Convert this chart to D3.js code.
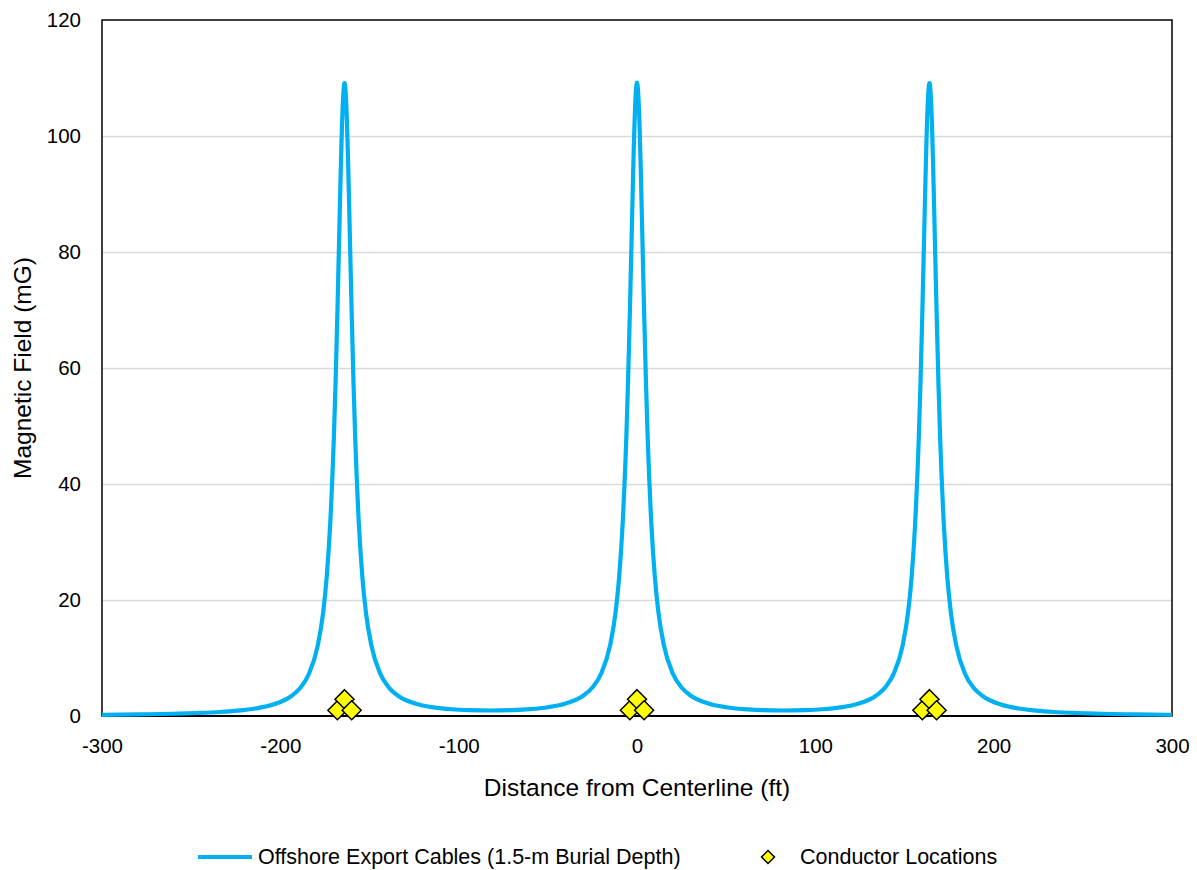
<!DOCTYPE html>
<html>
<head>
<meta charset="utf-8">
<script src="https://cdn.jsdelivr.net/npm/d3@7"></script>
<style>
  html, body { margin: 0; padding: 0; background: #fff; }
  svg { display: block; font-family: "Liberation Sans", Arial, sans-serif; }
</style>
</head>
<body>
<svg id="chart" width="1197" height="870"></svg>
<script>
// ---- Data ----
const distanceFt = [
  -300, -280, -260, -246, -234, -224, -214, -204, -194, -189, -184, -179, -176, -174, -172,
  -170, -169, -168, -167, -166, -165, -164, -163, -162, -161, -160, -159, -158, -156, -154,
  -152, -149, -144, -139, -134, -124, -114, -104, -94, -82, -70, -60, -50, -40, -30, -25,
  -20, -15, -12, -10, -8, -6, -5, -4, -3, -2, -1, 0, 1, 2, 3, 4, 5, 6, 8, 10, 12, 15, 20,
  25, 30, 40, 50, 60, 70, 82, 94, 104, 114, 124, 134, 139, 144, 149, 152, 154, 156, 158,
  159, 160, 161, 162, 163, 164, 165, 166, 167, 168, 169, 170, 172, 174, 176, 179, 184, 189,
  194, 204, 214, 224, 234, 246, 260, 280, 300
];
const fieldMG = [
  0.21, 0.28, 0.39, 0.52, 0.69, 0.92, 1.30, 1.97, 3.40, 4.78, 7.25, 12.19, 17.82, 23.93, 33.33,
  47.84, 57.74, 69.54, 82.64, 95.54, 105.34, 109.14, 105.34, 95.54, 82.64, 69.54, 57.74, 47.84, 33.36, 23.96,
  17.86, 12.23, 7.31, 4.86, 3.49, 2.10, 1.48, 1.16, 1.01, 0.95, 1.02, 1.18, 1.51, 2.14, 3.54, 4.91,
  7.37, 12.3, 17.9, 24.0, 33.4, 47.9, 57.8, 69.6, 82.7, 95.6, 105.4, 109.2, 105.4, 95.6, 82.7, 69.6, 57.8, 47.9, 33.4, 24.0, 17.9, 12.3, 7.37,
  4.91, 3.54, 2.14, 1.51, 1.18, 1.02, 0.95, 1.01, 1.16, 1.48, 2.10, 3.49, 4.86, 7.31, 12.23, 17.86, 23.96, 33.36, 47.84,
  57.74, 69.54, 82.64, 95.54, 105.34, 109.14, 105.34, 95.54, 82.64, 69.54, 57.74, 47.84, 33.33, 23.93, 17.82, 12.19, 7.25, 4.78,
  3.40, 1.97, 1.30, 0.92, 0.69, 0.52, 0.39, 0.28, 0.21
];
const conductorX = [-168, -164, -160, -4, 0, 4, 160, 164, 168];
const conductorY = [1.0, 2.9, 1.0, 1.0, 2.9, 1.0, 1.0, 2.9, 1.0];
const xTicks = [-300, -200, -100, 0, 100, 200, 300];
const yTicks = [0, 20, 40, 60, 80, 100, 120];
const seriesNames = ["Offshore Export Cables (1.5-m Burial Depth)", "Conductor Locations"];
const xTitle = "Distance from Centerline (ft)";
const yTitle = "Magnetic Field (mG)";

// ---- Layout ----
const svg = d3.select("#chart");
const plot = { left: 102, right: 1172, top: 20, bottom: 716 };
const lineColor = "#00b0f0";
const fmt = d => String(d);

const x = d3.scaleLinear().domain([-300, 300]).range([plot.left, plot.right]);
const y = d3.scaleLinear().domain([0, 120]).range([plot.bottom, plot.top]);

// gridlines
svg.append("g")
  .attr("transform", `translate(${plot.left},0)`)
  .call(d3.axisLeft(y).tickValues(yTicks.filter(v => v > 0 && v < 120))
        .tickSize(-(plot.right - plot.left)).tickFormat(""))
  .call(g => g.select(".domain").remove())
  .call(g => g.selectAll("line").attr("stroke", "#d9d9d9").attr("stroke-width", 1.5));

// plot border
svg.append("rect")
  .attr("x", plot.left).attr("y", plot.top)
  .attr("width", plot.right - plot.left).attr("height", plot.bottom - plot.top)
  .attr("fill", "none").attr("stroke", "#000").attr("stroke-width", 1.5);

// y tick labels
svg.append("g")
  .attr("transform", `translate(${plot.left},0)`)
  .call(d3.axisLeft(y).tickValues(yTicks).tickSize(0).tickPadding(21).tickFormat(fmt))
  .call(g => g.select(".domain").remove())
  .call(g => g.selectAll("text").attr("font-size", 20.5).attr("fill", "#000")
        .attr("font-family", "Liberation Sans, Arial, sans-serif"));

// x tick labels
svg.append("g")
  .attr("transform", `translate(0,${plot.bottom})`)
  .call(d3.axisBottom(x).tickValues(xTicks).tickSize(0).tickPadding(22).tickFormat(fmt))
  .call(g => g.select(".domain").remove())
  .call(g => g.selectAll("text").attr("font-size", 20.5).attr("fill", "#000")
        .attr("font-family", "Liberation Sans, Arial, sans-serif"));

// zero axis line
svg.append("line")
  .attr("x1", plot.left).attr("x2", plot.right)
  .attr("y1", y(0)).attr("y2", y(0))
  .attr("stroke", "#000").attr("stroke-width", 2);

// curve
const pts = distanceFt.map((d, i) => [d, fieldMG[i]]);
const line = d3.line().x(d => x(d[0])).y(d => y(d[1])).curve(d3.curveMonotoneX);
svg.append("path")
  .datum(pts)
  .attr("d", line)
  .attr("fill", "none")
  .attr("stroke", lineColor)
  .attr("stroke-width", 4.2)
  .attr("stroke-linejoin", "round");

// conductor markers (diamonds)
const r = 9.5;
const diamond = `M0,${-r}L${r},0L0,${r}L${-r},0Z`;
svg.append("g").selectAll("path")
  .data(conductorX.map((d, i) => [d, conductorY[i]]))
  .join("path")
  .attr("transform", d => `translate(${x(d[0])},${y(d[1])})`)
  .attr("d", diamond)
  .attr("fill", "#ffff00")
  .attr("stroke", "#000")
  .attr("stroke-width", 1.5);

// axis titles
svg.append("text")
  .attr("x", (plot.left + plot.right) / 2).attr("y", 787)
  .attr("text-anchor", "middle").attr("dominant-baseline", "central")
  .attr("font-size", 24.5).attr("fill", "#000")
  .text(xTitle);

svg.append("text")
  .attr("transform", `translate(22,${(plot.top + plot.bottom) / 2}) rotate(-90)`)
  .attr("text-anchor", "middle").attr("dominant-baseline", "central")
  .attr("font-size", 24.5).attr("fill", "#000")
  .text(yTitle);

// legend
const leg = svg.append("g").attr("transform", "translate(0,857)");
leg.append("line").attr("x1", 198).attr("x2", 252).attr("y1", 0).attr("y2", 0)
  .attr("stroke", lineColor).attr("stroke-width", 4.2);
leg.append("text").attr("x", 258).attr("y", 0).attr("dominant-baseline", "central")
  .attr("font-size", 21.5).attr("fill", "#000").text(seriesNames[0]);
const rl = 6.5;
leg.append("path").attr("transform", "translate(768,0)")
  .attr("d", `M0,${-rl}L${rl},0L0,${rl}L${-rl},0Z`)
  .attr("fill", "#ffff00").attr("stroke", "#000").attr("stroke-width", 1.5);
leg.append("text").attr("x", 800).attr("y", 0).attr("dominant-baseline", "central")
  .attr("font-size", 21.5).attr("fill", "#000").text(seriesNames[1]);
</script>
</body>
</html>
